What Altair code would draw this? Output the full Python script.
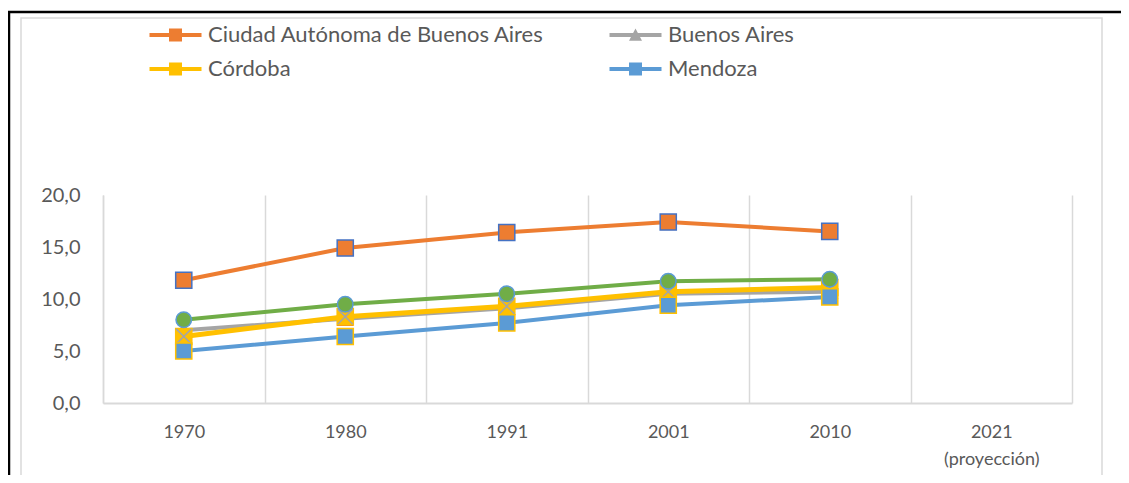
import altair as alt
import pandas as pd

# ---- data ----
years = ["1970", "1980", "1991", "2001", "2010", "2021 (proyección)"]
series_names = [
    "Ciudad Autónoma de Buenos Aires",
    "Buenos Aires",
    "Córdoba",
    "Mendoza",
    "Total del país",
]
caba = [11.8, 14.9, 16.4, 17.4, 16.5]
buenos_aires = [7.0, 8.1, 9.1, 10.5, 10.7]
cordoba = [6.4, 8.3, 9.3, 10.7, 11.1]
mendoza = [5.0, 6.4, 7.7, 9.4, 10.2]
total = [8.0, 9.5, 10.5, 11.7, 11.9]
y_ticks = [0, 5, 10, 15, 20]
# legend entries (laid out column by column in two columns)
legend_names = ["Ciudad Autónoma de Buenos Aires", "Córdoba", "Buenos Aires", "Mendoza"]

# ---- styles ----
line_colors = ["#ED7D31", "#A5A5A5", "#FFC000", "#5B9BD5", "#70AD47"]
border_colors = ["#4472C4", "#ED7D31", "#FFC000", "#FFC000", "#5B9BD5"]
line_widths = [4, 4, 5, 4, 4]
FONT = "Lato"
TXT = "#595959"

rows = []
for name, vals in zip(series_names, [caba, buenos_aires, cordoba, mendoza, total]):
    for yr, v in zip(years, vals):
        rows.append({"year": yr, "series": name, "value": v})
df = pd.DataFrame(rows)

x_enc = alt.X(
    "year:N",
    sort=years,
    scale=alt.Scale(type="band", domain=years, paddingInner=0, paddingOuter=0),
    axis=alt.Axis(
        title=None,
        tickBand="extent",
        grid=True,
        gridColor="#D9D9D9",
        gridWidth=1.5,
        ticks=False,
        domainColor="#D9D9D9",
        domainWidth=2,
        labelAngle=0,
        labelFont=FONT,
        labelFontSize=18,
        labelColor=TXT,
        labelPadding=20,
        labelLineHeight=27,
        labelExpr="split(datum.label, ' ')",
    ),
)
y_enc = alt.Y(
    "value:Q",
    scale=alt.Scale(domain=[0, 20], nice=False),
    axis=alt.Axis(
        title=None,
        values=y_ticks,
        grid=False,
        ticks=False,
        tickSize=0,
        domainColor="#D9D9D9",
        domainWidth=1.5,
        labelFont=FONT,
        labelFontSize=20,
        labelColor=TXT,
        labelPadding=23,
        labelExpr="replace(format(datum.value, '.1f'), '.', ',')",
    ),
)

base = alt.Chart(df)

line_layers = []
for name, lc, lw in zip(series_names, line_colors, line_widths):
    line_layers.append(
        base.transform_filter(alt.datum.series == name)
        .mark_line(color=lc, strokeWidth=lw)
        .encode(x=x_enc, y=y_enc)
    )

marker_shapes = ["square", "triangle-up", "square", "square", "circle"]
marker_sizes = [260, 220, 260, 260, 240]
point_layers = []
for name, shp, fc, bc, sz in zip(series_names, marker_shapes, line_colors, border_colors, marker_sizes):
    point_layers.append(
        base.transform_filter(alt.datum.series == name)
        .mark_point(shape=shp, filled=True, fill=fc, stroke=bc, strokeWidth=1.5, size=sz, opacity=1)
        .encode(x=x_enc, y=y_enc)
    )
    if name == "Córdoba":
        point_layers.append(
            base.transform_filter(alt.datum.series == name)
            .mark_point(shape="M-1,-1L1,1M1,-1L-1,1", filled=False, stroke="#A5A5A5",
                        strokeWidth=1.5, size=230, opacity=1)
            .encode(x=x_enc, y=y_enc)
        )

legend_paths = [
    "M-4,-0.3H4V0.3H-4Z M-1,-1H1V1H-1Z",
    "M-4,-0.3H4V0.3H-4Z M0,-1L1,0.9H-1Z",
    "M-4,-0.3H4V0.3H-4Z M-1,-1H1V1H-1Z",
    "M-4,-0.3H4V0.3H-4Z M-1,-1H1V1H-1Z",
    "M-4,-0.3H4V0.3H-4Z M-1,-1H1V1H-1Z",
]
legend_props = dict(
    title=None,
    orient="none",
    legendX=61.5,
    legendY=-171,
    columns=2,
    values=legend_names,
    symbolSize=169,
    symbolStrokeWidth=0,
    symbolOpacity=1,
    labelFont=FONT,
    labelFontSize=22,
    labelColor=TXT,
    labelOffset=21.5,
    labelLimit=600,
    columnPadding=65,
    rowPadding=12,
    padding=0,
)
legend_layer = base.mark_point(filled=True, opacity=0).encode(
    x=x_enc,
    y=y_enc,
    color=alt.Color("series:N", scale=alt.Scale(domain=series_names, range=line_colors),
                    legend=alt.Legend(**legend_props)),
    shape=alt.Shape(
        "series:N",
        scale=alt.Scale(domain=series_names, range=legend_paths),
        legend=alt.Legend(**legend_props),
    ),
)

one = pd.DataFrame({"k": [0]})
frame_black_top = alt.Chart(one).mark_rule(color="#000000", strokeWidth=2.5).encode(
    x=alt.value(-95), x2=alt.value(1040), y=alt.value(-183)
)
frame_black_left = alt.Chart(one).mark_rule(color="#000000", strokeWidth=2.5).encode(
    x=alt.value(-94), y=alt.value(-183), y2=alt.value(300)
)
frame_gray = alt.Chart(one).mark_rect(fill=None, stroke="#D9D9D9", strokeWidth=1.5).encode(
    x=alt.value(-82), x2=alt.value(999), y=alt.value(-177), y2=alt.value(320)
)

chart = (
    alt.layer(frame_black_top, frame_black_left, frame_gray, *line_layers, *point_layers, legend_layer)
    .properties(
        width=969,
        height=208,
        autosize=alt.AutoSizeParams(type="none"),
        padding={"left": 95, "top": 187, "right": 49, "bottom": 72},
        background="#FFFFFF",
    )
    .configure_view(stroke=None)
)

chart.save("out.html", embed_options={"renderer": "svg", "actions": False})
